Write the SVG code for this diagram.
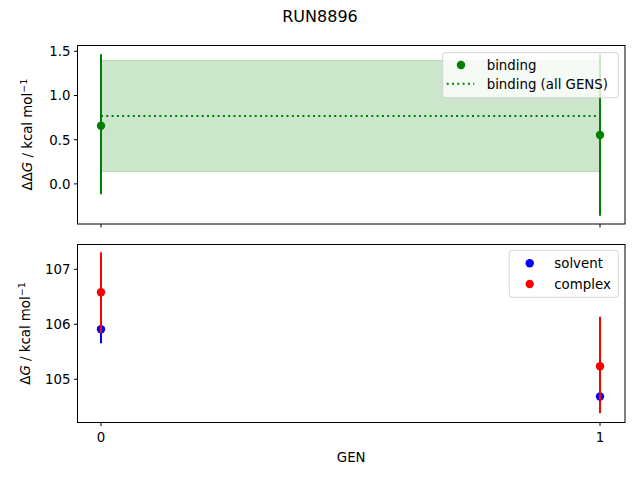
<svg xmlns="http://www.w3.org/2000/svg" width="640" height="480" viewBox="0 0 640 480">
<style>
text{font-family:"DejaVu Sans",sans-serif;font-size:13.33px;fill:#000}
.frame{fill:none;stroke:#000;stroke-width:1}
.tick{stroke:#000;stroke-width:1}
.yt{text-anchor:end}
.xt{text-anchor:middle}
.eg{stroke:#008000;stroke-width:2}
.eb{stroke:#0000ff;stroke-width:2}
.er{stroke:#ff0000;stroke-width:2}
.leg{fill:#fff;fill-opacity:0.8;stroke:#ccc;stroke-opacity:0.8;stroke-width:1}
.sup{font-size:9.5px}
</style>
<rect width="640" height="480" fill="#fff"/>
<text id="title" x="320" y="21.7" text-anchor="middle" style="font-size:16px">RUN8896</text>

<g id="top-axes">
  <rect x="101" y="60.3" width="499" height="111.4" fill="#008000" fill-opacity="0.2" stroke="#008000" stroke-opacity="0.2" stroke-width="1"/>
  <line x1="101" y1="116" x2="600" y2="116" stroke="#008000" stroke-width="2" stroke-dasharray="2,3.3"/>
  <line class="eg" x1="101" y1="54.3" x2="101" y2="194.3"/>
  <line class="eg" x1="600" y1="54.3" x2="600" y2="215.7"/>
  <circle cx="101" cy="125.7" r="4.2" fill="#008000"/>
  <circle cx="600" cy="135" r="4.2" fill="#008000"/>
  <rect class="frame" x="77.5" y="45.5" width="547.5" height="178.5"/>
  <g class="tick">
    <line x1="74" y1="51.3" x2="77.5" y2="51.3"/>
    <line x1="74" y1="95.5" x2="77.5" y2="95.5"/>
    <line x1="74" y1="139.7" x2="77.5" y2="139.7"/>
    <line x1="74" y1="183.9" x2="77.5" y2="183.9"/>
    <line x1="101" y1="224" x2="101" y2="227.5"/>
    <line x1="600" y1="224" x2="600" y2="227.5"/>
  </g>
  <text class="yt" x="70.5" y="56.1">1.5</text>
  <text class="yt" x="70.5" y="100.3">1.0</text>
  <text class="yt" x="70.5" y="144.5">0.5</text>
  <text class="yt" x="70.5" y="188.7">0.0</text>
  <text x="32.5" y="134.6" text-anchor="middle" transform="rotate(-90 32.5 134.6)">ΔΔ<tspan font-style="italic">G</tspan> / kcal mol<tspan class="sup" dy="-5">−1</tspan></text>
  <g id="top-legend">
    <rect class="leg" x="442.7" y="52.7" width="175.6" height="45" rx="2.7"/>
    <circle cx="461" cy="65" r="4.2" fill="#008000"/>
    <text x="486.7" y="69.8">binding</text>
    <line x1="446.7" y1="83.7" x2="474.3" y2="83.7" stroke="#008000" stroke-width="2" stroke-dasharray="2,3.3"/>
    <text x="486.7" y="88.5">binding (all GENS)</text>
  </g>
</g>

<g id="bottom-axes">
  <line class="eb" x1="101" y1="315" x2="101" y2="343.3"/>
  <line class="eb" x1="600" y1="393" x2="600" y2="400"/>
  <circle cx="101" cy="329.3" r="4.2" fill="#0000ff"/>
  <circle cx="600" cy="396.5" r="4.2" fill="#0000ff"/>
  <line class="er" x1="101" y1="252.3" x2="101" y2="333"/>
  <line class="er" x1="600" y1="316.7" x2="600" y2="413.3"/>
  <circle cx="101" cy="292.3" r="4.2" fill="#ff0000"/>
  <circle cx="600" cy="366.3" r="4.2" fill="#ff0000"/>
  <rect class="frame" x="77.5" y="244.5" width="547.5" height="178"/>
  <g class="tick">
    <line x1="74" y1="269.3" x2="77.5" y2="269.3"/>
    <line x1="74" y1="324.3" x2="77.5" y2="324.3"/>
    <line x1="74" y1="379.3" x2="77.5" y2="379.3"/>
    <line x1="101" y1="422.5" x2="101" y2="426"/>
    <line x1="600" y1="422.5" x2="600" y2="426"/>
  </g>
  <text class="yt" x="70.5" y="274.1">107</text>
  <text class="yt" x="70.5" y="329.1">106</text>
  <text class="yt" x="70.5" y="384.1">105</text>
  <text class="xt" x="101" y="442.3">0</text>
  <text class="xt" x="600" y="442.3">1</text>
  <text class="xt" x="351.2" y="462.3">GEN</text>
  <text x="29.5" y="333.5" text-anchor="middle" transform="rotate(-90 29.5 333.5)">Δ<tspan font-style="italic">G</tspan> / kcal mol<tspan class="sup" dy="-5">−1</tspan></text>
  <g id="bottom-legend">
    <rect class="leg" x="509.3" y="250.3" width="109" height="47" rx="2.7"/>
    <circle cx="529.7" cy="263.3" r="4.2" fill="#0000ff"/>
    <text x="554.3" y="268">solvent</text>
    <circle cx="529.7" cy="284" r="4.2" fill="#ff0000"/>
    <text x="554.3" y="288.7">complex</text>
  </g>
</g>
</svg>
